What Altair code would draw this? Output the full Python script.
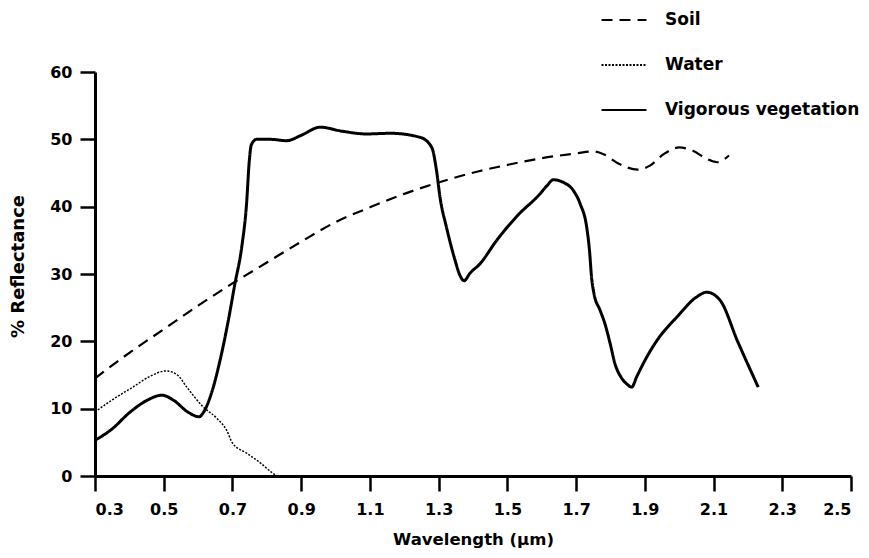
import altair as alt
import pandas as pd

# ---- data ----
series_names = ["Soil", "Water", "Vigorous vegetation"]
series_dash = [[11, 7], [2, 1.5], [1, 0]]
series_width = [2.2, 1.5, 3.0]

soil_x = [0.30, 0.40, 0.50, 0.60, 0.70, 0.80, 0.90, 1.00, 1.10, 1.20, 1.30, 1.42,
          1.50, 1.60, 1.70, 1.75, 1.78, 1.82, 1.88, 1.915, 1.955, 2.00, 2.04,
          2.08, 2.11, 2.145]
soil_y = [14.5, 18.3, 21.8, 25.3, 28.6, 31.7, 34.8, 37.7, 39.9, 41.9, 43.6, 45.3,
          46.2, 47.2, 47.9, 48.2, 47.8, 46.5, 45.5, 46.1, 47.8, 48.8, 48.3,
          47.1, 46.6, 47.6]

water_x = [0.30, 0.35, 0.41, 0.46, 0.507, 0.54, 0.567, 0.614, 0.654, 0.683,
           0.70, 0.741, 0.78, 0.818, 0.83]
water_y = [9.5, 11.3, 13.2, 14.8, 15.6, 15.0, 13.2, 10.3, 8.6, 6.8,
           4.9, 3.4, 2.0, 0.4, 0.0]

veg_x = [0.30, 0.35, 0.40, 0.45, 0.495, 0.53, 0.57, 0.603, 0.615, 0.635, 0.664,
         0.688, 0.707, 0.727, 0.741, 0.749, 0.755, 0.77, 0.81, 0.858, 0.90,
         0.955, 1.02, 1.09, 1.16, 1.246, 1.28, 1.294, 1.304, 1.323, 1.348,
         1.362, 1.374, 1.391, 1.42, 1.469, 1.53, 1.595, 1.615, 1.634, 1.663,
         1.692, 1.712, 1.731, 1.739, 1.745, 1.752, 1.77, 1.784, 1.799, 1.813,
         1.833, 1.847, 1.862, 1.876, 1.905, 1.935, 1.993, 2.051, 2.08, 2.119,
         2.17, 2.23]
veg_y = [5.3, 7.0, 9.4, 11.2, 12.0, 11.2, 9.5, 8.8, 9.4, 11.7, 17.2,
         23.1, 28.5, 34.0, 40.4, 46.8, 49.2, 50.0, 50.0, 49.8, 50.6,
         51.8, 51.2, 50.8, 50.9, 50.3, 48.8, 45.3, 41.4, 36.9, 32.0,
         29.8, 29.0, 30.1, 31.5, 35.0, 38.7, 41.9, 43.1, 44.0, 43.6,
         42.4, 40.4, 36.9, 33.5, 29.5, 27.1, 24.6, 22.6, 19.7, 16.7,
         14.5, 13.7, 13.2, 14.7, 17.6, 20.1, 23.6, 26.6, 27.3, 26.1,
         20.0, 13.2]

x_ticks = [0.3, 0.5, 0.7, 0.9, 1.1, 1.3, 1.5, 1.7, 1.9, 2.1, 2.3, 2.5]
y_ticks = [0, 10, 20, 30, 40, 50, 60]

frames = []
for name, xs, ys, w in [("Soil", soil_x, soil_y, series_width[0]),
                        ("Water", water_x, water_y, series_width[1]),
                        ("Vigorous vegetation", veg_x, veg_y, series_width[2])]:
    frames.append(pd.DataFrame({"wl": xs, "refl": ys, "series": name, "sw": w}))
df = pd.concat(frames, ignore_index=True)

FONT = "DejaVu Sans"

legend = alt.Legend(
    title=None, orient="none", legendX=505, legendY=-76,
    symbolType="stroke", symbolSize=2025, symbolStrokeColor="black",
    symbolStrokeWidth=2.2,
    labelOffset=17, rowPadding=13, padding=0,
    labelFont=FONT, labelFontSize=17, labelFontWeight="bold", labelColor="black",
    labelLimit=400,
)

chart = alt.Chart(df).mark_line(color="black", interpolate="monotone").encode(
    x=alt.X("wl:Q", scale=alt.Scale(domain=[0.3, 2.5], nice=False, zero=False),
            axis=alt.Axis(values=x_ticks, format=".1f", title="Wavelength (μm)",
                          titleY=63, titleBaseline="middle", labelPadding=10)),
    y=alt.Y("refl:Q", scale=alt.Scale(domain=[0, 60], nice=False),
            axis=alt.Axis(values=y_ticks, title="% Reflectance",
                          titleX=-77, titleY=194, titleBaseline="middle",
                          titleAngle=270, labelPadding=8)),
    strokeDash=alt.StrokeDash("series:N", sort=series_names,
                              scale=alt.Scale(domain=series_names, range=series_dash),
                              legend=legend),
    strokeWidth=alt.StrokeWidth("sw:Q", scale=None, legend=None),
    detail="series:N",
).properties(
    width=756, height=404,
    autosize=alt.AutoSizeParams(type="none"),
    padding={"left": 87, "top": 64, "right": 10, "bottom": 74},
).configure_view(stroke=None).configure_axis(
    grid=False, domainColor="black", domainWidth=3, tickColor="black",
    tickWidth=2.5, tickSize=15, labelFont=FONT, labelFontSize=16,
    labelFontWeight="bold", labelColor="black", titleFont=FONT,
    titleFontWeight="bold", titleColor="black",
).configure_axisX(titleFontSize=16.5).configure_axisY(titleFontSize=18)

chart.save("out.html", embed_options={"renderer": "svg", "actions": False})
